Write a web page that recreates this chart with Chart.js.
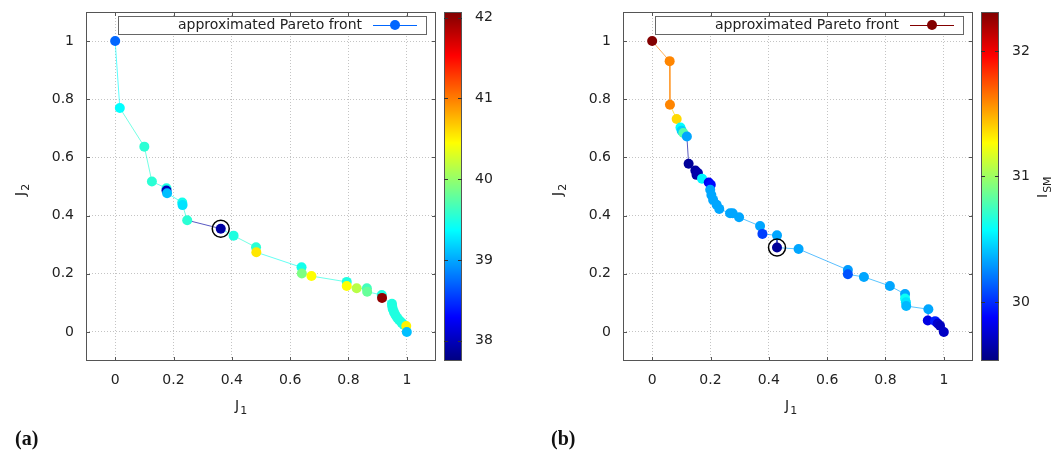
<!DOCTYPE html>
<html>
<head>
<meta charset="utf-8">
<script src="https://cdn.jsdelivr.net/npm/chart.js@4.4.1/dist/chart.umd.min.js"></script>
<style>
body { margin: 0; background: #fff; }
#wrap { position: relative; width: 1062px; height: 454px; overflow: hidden; }
canvas { position: absolute; top: 0; }
#ca { left: 0; }
#cb { left: 531px; }
.tag { position: absolute; top: 427px; line-height: 24px; font: bold 20px "Liberation Serif", serif; color: #111; }
</style>
</head>
<body>
<div id="wrap">
  <canvas id="ca" width="531" height="454"></canvas>
  <canvas id="cb" width="531" height="454"></canvas>
  <div class="tag" style="left:15px">(a)</div>
  <div class="tag" style="left:551px">(b)</div>
</div>
<script>
const FONT = 'DejaVu Sans';

const xTicks = [0, 0.2, 0.4, 0.6, 0.8, 1];
const yTicks = [0, 0.2, 0.4, 0.6, 0.8, 1];

// panel (a)
const j1A = [0.000, 0.016, 0.100, 0.126, 0.176, 0.176, 0.178, 0.230, 0.231, 0.247,
             0.362, 0.406, 0.483, 0.484, 0.639, 0.640, 0.673, 0.794, 0.794, 0.828,
             0.863, 0.864, 0.914, 0.915, 0.949, 0.950, 0.952, 0.956, 0.961, 0.967,
             0.974, 0.982, 0.989, 0.998, 1.000];
const j2A = [1.000, 0.770, 0.637, 0.517, 0.494, 0.486, 0.477, 0.445, 0.436, 0.384,
             0.355, 0.331, 0.291, 0.274, 0.222, 0.201, 0.192, 0.172, 0.158, 0.150,
             0.150, 0.138, 0.127, 0.117, 0.097, 0.087, 0.078, 0.068, 0.058, 0.049,
             0.040, 0.032, 0.025, 0.020, 0.000];
const ismA = [38.72, 39.37, 39.55, 39.55, 39.50, 38.00, 39.10, 39.45, 39.25, 39.55,
              37.90, 39.50, 39.55, 40.55, 39.45, 39.90, 40.45, 39.50, 40.45, 40.15,
              39.65, 39.80, 39.50, 42.00, 39.50, 39.50, 39.50, 39.50, 39.50, 39.50,
              39.50, 39.50, 39.50, 40.50, 39.10];
const cbTicksA = [38, 39, 40, 41, 42];
const cbRangeA = [37.75, 42.07];
const bestA = 10;

// panel (b)
const j1B = [0.000, 0.060, 0.061, 0.084, 0.097, 0.101, 0.107, 0.119, 0.125, 0.148,
             0.152, 0.157, 0.171, 0.194, 0.201, 0.199, 0.203, 0.209, 0.221, 0.230,
             0.267, 0.276, 0.298, 0.370, 0.378, 0.428, 0.428, 0.502, 0.671, 0.671,
             0.726, 0.815, 0.867, 0.867, 0.870, 0.871, 0.947, 0.945, 0.970, 0.979,
             0.987, 1.000];
const j2B = [1.000, 0.931, 0.781, 0.732, 0.703, 0.692, 0.684, 0.672, 0.578, 0.555,
             0.540, 0.546, 0.527, 0.514, 0.506, 0.489, 0.471, 0.454, 0.437, 0.423,
             0.408, 0.408, 0.394, 0.364, 0.337, 0.332, 0.290, 0.285, 0.213, 0.198,
             0.189, 0.158, 0.130, 0.115, 0.102, 0.089, 0.078, 0.039, 0.037, 0.029,
             0.021, 0.000];
const ismB = [32.30, 31.60, 31.60, 31.37, 30.57, 30.45, 30.80, 30.33, 29.60, 29.62,
              29.62, 29.65, 30.55, 29.85, 29.90, 30.33, 30.33, 30.33, 30.33, 30.33,
              30.33, 30.33, 30.33, 30.33, 30.05, 30.33, 29.60, 30.33, 30.30, 30.10,
              30.33, 30.33, 30.33, 30.60, 30.50, 30.38, 30.33, 29.80, 29.95, 29.75,
              29.70, 29.72];
const cbTicksB = [30, 31, 32];
const cbRangeB = [29.53, 32.31];
const bestB = 26;

function jet(v, lo, hi, alpha) {
  const t = Math.min(1, Math.max(0, (v - lo) / (hi - lo)));
  const ch = k => Math.round(255 * Math.min(1, Math.max(0, 1.5 - Math.abs(4 * t - k))));
  return `rgba(${ch(3)},${ch(2)},${ch(1)},${alpha === undefined ? 1 : alpha})`;
}

function drawSub(ctx, main, sub, x, y, size) {
  ctx.font = `${size}px "${FONT}"`;
  ctx.fillText(main, x, y);
  const w = ctx.measureText(main).width;
  ctx.font = `${Math.round(size * 0.78)}px "${FONT}"`;
  ctx.fillText(sub, x + w + 1, y + 4);
}

// frame, inner ticks, legend box, colorbar and axis titles
const framePlugin = {
  id: 'frame',
  afterDraw(chart, args, o) {
    const { ctx, chartArea: a, scales } = chart;
    ctx.save();
    ctx.strokeStyle = '#555';
    ctx.lineWidth = 1;
    ctx.strokeRect(a.left + 0.5, a.top + 0.5, a.width - 1, a.height - 1);
    ctx.beginPath();
    xTicks.forEach(v => {
      const px = Math.round(scales.x.getPixelForValue(v)) + 0.5;
      ctx.moveTo(px, a.top); ctx.lineTo(px, a.top + 4);
      ctx.moveTo(px, a.bottom); ctx.lineTo(px, a.bottom - 4);
    });
    yTicks.forEach(v => {
      const py = Math.round(scales.y.getPixelForValue(v)) + 0.5;
      ctx.moveTo(a.left, py); ctx.lineTo(a.left + 4, py);
      ctx.moveTo(a.right, py); ctx.lineTo(a.right - 4, py);
    });
    ctx.stroke();

    // legend
    const ly = a.top + 13;
    ctx.fillStyle = '#fff';
    ctx.fillRect(a.left + 32, a.top + 4, a.width - 42, 18);
    ctx.strokeStyle = '#666';
    ctx.strokeRect(a.left + 32.5, a.top + 4.5, a.width - 42, 18);
    ctx.fillStyle = '#222';
    ctx.font = `14px "${FONT}"`;
    ctx.textAlign = 'right';
    ctx.textBaseline = 'middle';
    ctx.fillText('approximated Pareto front', a.right - 74, ly);
    ctx.strokeStyle = o.legendColor;
    ctx.beginPath();
    ctx.moveTo(a.right - 63, ly + 0.5); ctx.lineTo(a.right - 19, ly + 0.5);
    ctx.stroke();
    ctx.fillStyle = o.legendColor;
    ctx.beginPath();
    ctx.arc(a.right - 41, ly, 5, 0, Math.PI * 2);
    ctx.fill();

    // colorbar
    const cs = scales.c;
    const x0 = a.right + 8, w = 18;
    for (let py = Math.floor(cs.top); py < cs.bottom; py++) {
      ctx.fillStyle = jet(cs.getValueForPixel(py + 0.5), o.lo, o.hi);
      ctx.fillRect(x0, py, w, 1);
    }
    ctx.strokeStyle = '#555';
    ctx.strokeRect(x0 + 0.5, cs.top + 0.5, w - 1, cs.bottom - cs.top - 1);
    ctx.strokeStyle = '#333';
    ctx.beginPath();
    o.cbTicks.forEach(v => {
      const py = Math.round(cs.getPixelForValue(v)) + 0.5;
      ctx.moveTo(x0, py); ctx.lineTo(x0 + 4, py);
      ctx.moveTo(x0 + w, py); ctx.lineTo(x0 + w - 4, py);
    });
    ctx.stroke();

    // axis titles
    ctx.fillStyle = '#222';
    ctx.textAlign = 'left';
    ctx.textBaseline = 'alphabetic';
    drawSub(ctx, 'J', '1', a.left + o.j1x, 410, 14);
    ctx.save();
    ctx.translate(a.left - 61, 196);
    ctx.rotate(-Math.PI / 2);
    drawSub(ctx, 'J', '2', 0, 0, 14);
    ctx.restore();
    if (o.showIsm) {
      ctx.save();
      ctx.translate(a.right + 74, 198);
      ctx.rotate(-Math.PI / 2);
      drawSub(ctx, 'I', 'SM', 0, 0, 14);
      ctx.restore();
    }
    ctx.restore();
  }
};

// fixed axis sizes so the plot box lands in the same place in both panels
function fixSize(prop, val) {
  return s => {
    s[prop] = val;
    s.paddingTop = 0; s.paddingBottom = 0;
    s.paddingLeft = 0; s.paddingRight = 0;
  };
}

function makePanel(id, j1, j2, ism, cbTicks, cbRange, best, leftW, rightW, j1x, showIsm) {
  const [lo, hi] = cbRange;
  const pts = j1.map((x, i) => ({ x: x, y: j2[i] }));
  const cols = ism.map(v => jet(v, lo, hi));
  const lineCols = ism.map(v => jet(v, lo, hi, 0.65));
  const tickFont = { family: FONT, size: 14 };
  return new Chart(document.getElementById(id), {
    type: 'scatter',
    data: {
      datasets: [{
        data: pts,
        showLine: true,
        borderWidth: 1,
        borderColor: lineCols[0],
        segment: { borderColor: c => lineCols[c.p1DataIndex] },
        pointRadius: 5,
        pointHoverRadius: 5,
        pointBorderWidth: 0,
        pointBackgroundColor: cols,
        order: 2
      }, {
        data: [pts[best]],
        showLine: false,
        pointRadius: 8.5,
        pointHoverRadius: 8.5,
        pointBorderWidth: 1.5,
        pointBorderColor: '#000',
        pointBackgroundColor: 'rgba(0,0,0,0)',
        order: 1
      }]
    },
    options: {
      responsive: false,
      animation: false,
      events: [],
      layout: { padding: { top: 12, left: 0, right: 0, bottom: 0 } },
      plugins: {
        legend: { display: false },
        tooltip: { enabled: false },
        frame: { lo: lo, hi: hi, cbTicks: cbTicks, legendColor: cols[0], j1x: j1x, showIsm: showIsm }
      },
      scales: {
        x: {
          type: 'linear', min: -0.1, max: 1.1,
          afterBuildTicks: s => { s.ticks = xTicks.map(v => ({ value: v })); },
          afterFit: fixSize('height', 93),
          grid: { color: '#c4c4c4', drawTicks: false },
          border: { display: false, dash: [1, 2] },
          ticks: { padding: 11, color: '#222', font: tickFont, maxRotation: 0, callback: v => String(v) }
        },
        y: {
          type: 'linear', min: -0.1, max: 1.1,
          afterBuildTicks: s => { s.ticks = yTicks.map(v => ({ value: v })); },
          afterFit: fixSize('width', leftW),
          grid: { color: '#c4c4c4', drawTicks: false },
          border: { display: false, dash: [1, 2] },
          ticks: { padding: 12, color: '#222', font: tickFont, callback: v => String(v) }
        },
        c: {
          type: 'linear', position: 'right', min: lo, max: hi,
          afterBuildTicks: s => { s.ticks = cbTicks.map(v => ({ value: v })); },
          afterFit: fixSize('width', rightW),
          grid: { display: false, drawTicks: false },
          border: { display: false },
          ticks: { padding: 39, color: '#222', font: tickFont, callback: v => String(v) }
        }
      }
    },
    plugins: [framePlugin]
  });
}

makePanel('ca', j1A, j2A, ismA, cbTicksA, cbRangeA, bestA, 86, 95, 149, false);
makePanel('cb', j1B, j2B, ismB, cbTicksB, cbRangeB, bestB, 92, 89, 162, true);
</script>
</body>
</html>
